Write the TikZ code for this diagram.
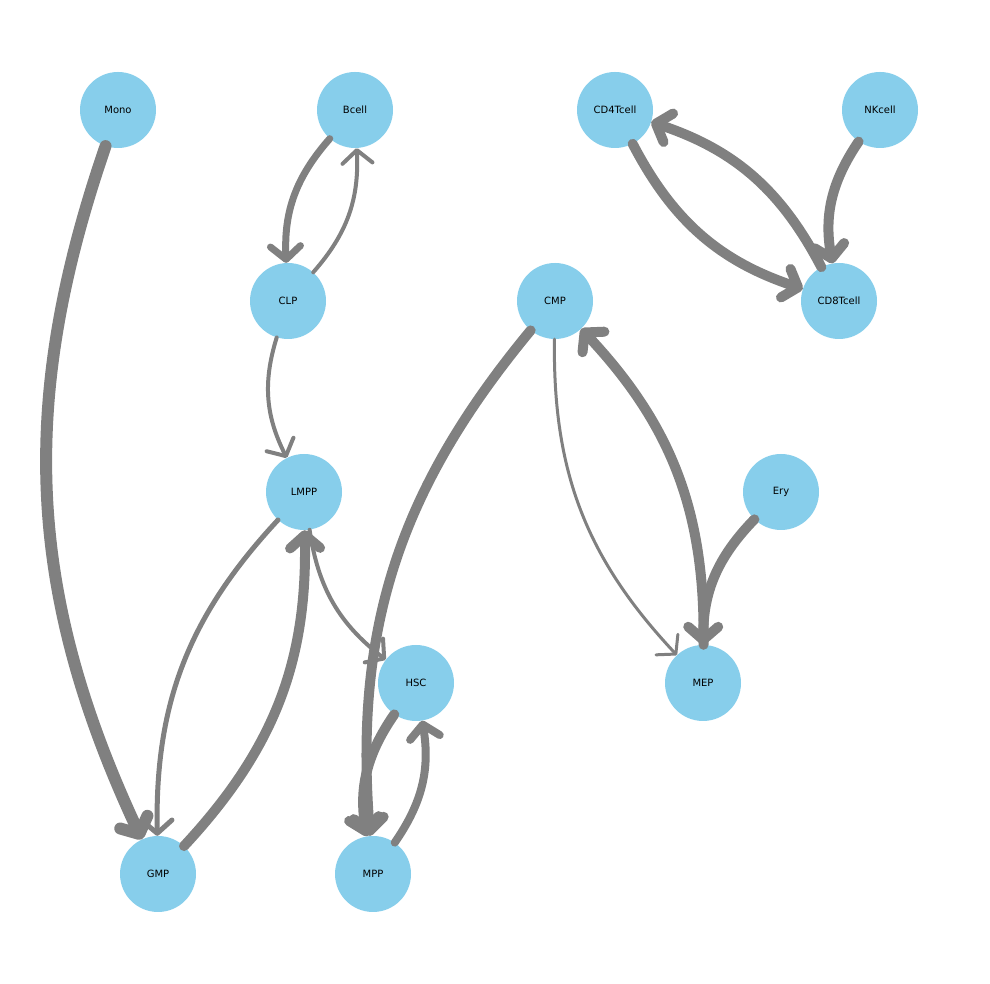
\documentclass[tikz,border=0pt]{standalone}
\usepackage{fontspec}
\setmainfont{DejaVu Sans}
\usetikzlibrary{arrows.meta}
\definecolor{sky}{RGB}{135,206,235}
\definecolor{eg}{RGB}{128,128,128}
\begin{document}
\begin{tikzpicture}[x=1pt,y=1pt,
  nd/.style={circle,fill=sky,minimum size=76pt,inner sep=0pt,font=\fontsize{17}{17}\selectfont},
  ed/.style={draw=eg,line width=#1,line cap=round,-{Straight Barb[length=13pt,width=30pt,line cap=round,line join=round]},bend right=22},
  ed/.default=10pt]
\useasboundingbox (0,0) rectangle (990,984);
\def\P(#1,#2){(#1,984-#2)}
\node[nd,label={center:Mono}] (Mono) at (118,874) {};
\node[nd,label={center:Bcell}] (Bcell) at (355,874) {};
\node[nd,label={center:CD4Tcell}] (CD4) at (615,874) {};
\node[nd,label={center:NKcell}] (NK) at (880,874) {};
\node[nd,label={center:CLP}] (CLP) at (288,683) {};
\node[nd,label={center:CMP}] (CMP) at (555,683) {};
\node[nd,label={center:CD8Tcell}] (CD8) at (839,683) {};
\node[nd,label={center:LMPP}] (LMPP) at (304,492) {};
\node[nd,label={center:Ery}] (Ery) at (781,492) {};
\node[nd,label={center:HSC}] (HSC) at (416,301) {};
\node[nd,label={center:MEP}] (MEP) at (703,301) {};
\node[nd,label={center:GMP}] (GMP) at (158,110) {};
\node[nd,label={center:MPP}] (MPP) at (373,110) {};
\draw[ed=12pt] (Mono) to (GMP);
\draw[ed=7pt] (Bcell) to (CLP);
\draw[ed=4pt] (CLP) to (Bcell);
\draw[ed=4pt] (CLP) to (LMPP);
\draw[ed=5pt] (LMPP) to (GMP);
\draw[ed=10pt] (GMP) to (LMPP);
\draw[ed=4pt] (LMPP) to (HSC);
\draw[ed=10pt] (CMP) to (MPP);
\draw[ed=10pt] (HSC) to (MPP);
\draw[ed=8pt] (MPP) to (HSC);
\draw[ed=3pt] (CMP) to (MEP);
\draw[ed=10pt] (MEP) to (CMP);
\draw[ed=10pt] (Ery) to (MEP);
\draw[ed=10pt] (CD4) to (CD8);
\draw[ed=10pt] (CD8) to (CD4);
\draw[ed=10pt] (NK) to (CD8);
\end{tikzpicture}
\end{document}
